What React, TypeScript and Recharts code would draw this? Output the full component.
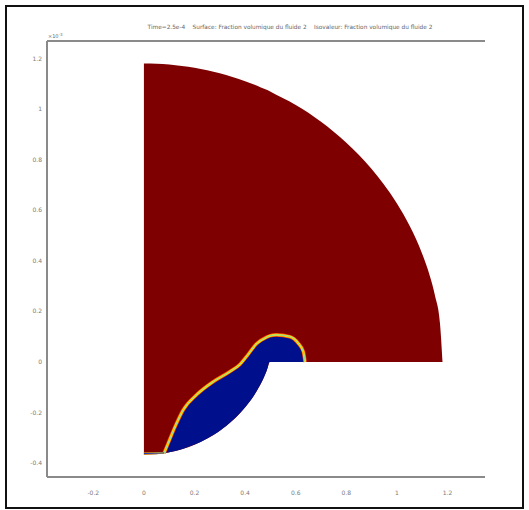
import React from 'react';
import { ComposedChart, Area, Line, XAxis, YAxis, ReferenceLine } from 'recharts';

// Outer fluid domain: quarter disk on top, spherical cap underneath
const domainX = [0, 0.05, 0.1, 0.15, 0.2, 0.25, 0.3, 0.35, 0.4, 0.45, 0.47, 0.49, 0.497, 0.6, 0.7, 0.8, 0.9, 1.0, 1.05, 1.1, 1.13, 1.15, 1.17, 1.18];
const domainTop = [1.18, 1.179, 1.176, 1.17, 1.163, 1.153, 1.141, 1.127, 1.11, 1.091, 1.082, 1.074, 1.07, 1.016, 0.95, 0.867, 0.763, 0.626, 0.538, 0.427, 0.34, 0.264, 0.153, 0];
const domainBottom = [-0.367, -0.365, -0.357, -0.345, -0.327, -0.303, -0.272, -0.232, -0.179, -0.108, -0.069, -0.021, 0, 0, 0, 0, 0, 0, 0, 0, 0, 0, 0, 0];

// Fluid 2 bubble (volume fraction = 0)
const bubbleX = [0.08, 0.096, 0.123, 0.155, 0.208, 0.274, 0.34, 0.379, 0.406, 0.445, 0.485, 0.497, 0.524, 0.577, 0.61, 0.63, 0.637];
const bubbleTop = [-0.36, -0.321, -0.256, -0.19, -0.13, -0.078, -0.038, -0.01, 0.022, 0.072, 0.098, 0.103, 0.107, 0.1, 0.074, 0.041, 0];
const bubbleBottom = [-0.36, -0.358, -0.352, -0.343, -0.324, -0.289, -0.24, -0.203, -0.172, -0.116, -0.035, 0, 0, 0, 0, 0, 0];

// thin film left on the bottom wall
const filmX = [0, 0.04, 0.08];
const filmY = [-0.362, -0.361, -0.36];

const xTicks = [-0.2, 0, 0.2, 0.4, 0.6, 0.8, 1, 1.2];
const yTicks = [-0.4, -0.2, 0, 0.2, 0.4, 0.6, 0.8, 1, 1.2];

const X_MIN = -0.383;
const X_MAX = 1.348;
const Y_MIN = -0.455;
const Y_MAX = 1.269;

const domainData = domainX.map((x, i) => ({ x, range: [domainBottom[i], domainTop[i]] }));
const bubbleData = bubbleX.map((x, i) => ({ x, range: [bubbleBottom[i], bubbleTop[i]] }));
const interfaceData = bubbleX.map((x, i) => ({ x, y: bubbleTop[i] }));
const filmData = filmX.map((x, i) => ({ x, y: filmY[i] }));

const tickStyle = { fontSize: 6, fill: '#7a7a7a', fontFamily: 'DejaVu Sans' };
const axisStyle = { stroke: '#8a8a8a', strokeWidth: 2 };

export default function App() {
  return (
    <div style={{ position: 'absolute', left: 0, top: 0, width: 529, height: 510, background: '#fff' }}>
      <div
        style={{
          position: 'absolute',
          left: 5,
          top: 5,
          width: 515,
          height: 500,
          border: '2px solid #111',
        }}
      />
      <ComposedChart
        width={529}
        height={510}
        margin={{ top: 41, right: 44, bottom: 3, left: 7 }}
        style={{ position: 'absolute', left: 0, top: 0 }}
      >
        <text
          x={290}
          y={29}
          textAnchor="middle"
          fontSize={5.8}
          fill="#666"
          fontFamily="DejaVu Sans"
          style={{ whiteSpace: 'pre' }}
        >
          {'Time=2.5e-4    Surface: Fraction volumique du fluide 2    Isovaleur: Fraction volumique du fluide 2'}
        </text>
        <text x={48} y={38} fontSize={5} fill="#666" fontFamily="DejaVu Sans">
          ×10
          <tspan dy={-2} fontSize={4}>-3</tspan>
        </text>
        <XAxis
          type="number"
          dataKey="x"
          domain={[X_MIN, X_MAX]}
          ticks={xTicks}
          allowDataOverflow
          height={30}
          tickLine={false}
          tickSize={6}
          tickMargin={8}
          axisLine={axisStyle}
          tick={tickStyle}
        />
        <YAxis
          type="number"
          domain={[Y_MIN, Y_MAX]}
          ticks={yTicks}
          allowDataOverflow
          width={40}
          tickLine={false}
          tickSize={3}
          tickMargin={2}
          axisLine={axisStyle}
          tick={tickStyle}
        />
        <ReferenceLine y={Y_MAX} stroke="#8a8a8a" strokeWidth={2} />
        <Area
          data={domainData}
          dataKey="range"
          type="monotone"
          fill="#7f0000"
          fillOpacity={1}
          stroke="none"
          isAnimationActive={false}
        />
        {/* interface colour ramp: orange/yellow on the red side, cyan on the blue side */}
        <Line data={interfaceData} dataKey="y" type="monotone" stroke="#ff4a00" strokeWidth={3.6} dot={false} isAnimationActive={false} />
        <Line data={interfaceData} dataKey="y" type="monotone" stroke="#ffe000" strokeWidth={2.2} dot={false} isAnimationActive={false} />
        <Line data={filmData} dataKey="y" type="monotone" stroke="#ffc800" strokeWidth={2} dot={false} isAnimationActive={false} />
        <Area
          data={bubbleData}
          dataKey="range"
          type="monotone"
          fill="#00108c"
          fillOpacity={1}
          stroke="none"
          isAnimationActive={false}
        />
        <Line data={interfaceData} dataKey="y" type="monotone" stroke="#40d8ff" strokeWidth={0.9} strokeOpacity={0.7} dot={false} isAnimationActive={false} />
        <Line data={filmData} dataKey="y" type="monotone" stroke="#1030c0" strokeWidth={1} dot={false} isAnimationActive={false} />
      </ComposedChart>
    </div>
  );
}
